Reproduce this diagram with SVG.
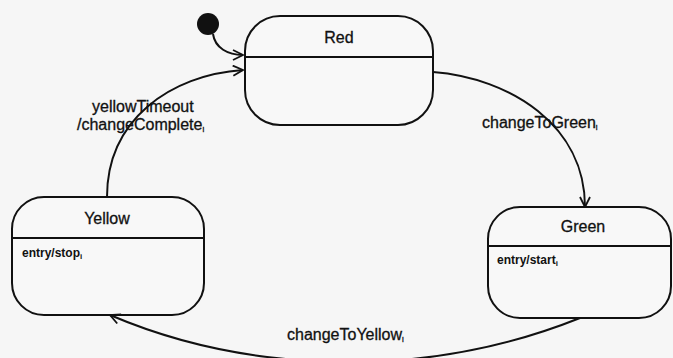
<svg xmlns="http://www.w3.org/2000/svg" width="673" height="358" viewBox="0 0 673 358">
<style>
.box{fill:#f8f8f8;stroke:#111;stroke-width:2}
.div{stroke:#111;stroke-width:2}
.t{font-family:"Liberation Sans",Arial,sans-serif;fill:#111}
.title{font-size:16px;text-anchor:middle;stroke:#111;stroke-width:0.3}
.lab{font-size:16px;stroke:#111;stroke-width:0.3}
.ent{font-size:12px;font-weight:bold}
.sub{font-size:8px}
.c{fill:none;stroke:#111;stroke-width:2}
</style>
<defs>
<marker id="arr" viewBox="0 0 12 12" refX="11" refY="6" markerWidth="12" markerHeight="12" markerUnits="userSpaceOnUse" orient="auto">
<path d="M1 1 L11 6 L1 11" fill="none" stroke="#111" stroke-width="1.8"/>
</marker>
</defs>
<rect width="673" height="358" fill="#f6f6f6"/>
<g id="initial">
<circle cx="208" cy="24" r="11" fill="#111"/>
</g>
<g id="red">
<rect class="box" x="245" y="16" width="188" height="109" rx="35"/>
<line class="div" x1="245" y1="57" x2="433" y2="57"/>
<text class="t title" x="339" y="43">Red</text>
</g>
<g id="yellow">
<rect class="box" x="12" y="197" width="192" height="118" rx="32"/>
<line class="div" x1="12" y1="238" x2="204" y2="238"/>
<text class="t title" x="107" y="224">Yellow</text>
<text class="t ent" x="22" y="257">entry/stop<tspan class="sub" dy="2">i</tspan></text>
</g>
<g id="green">
<rect class="box" x="488" y="207" width="183" height="111" rx="32"/>
<line class="div" x1="488" y1="246" x2="671" y2="246"/>
<text class="t title" x="583" y="232">Green</text>
<text class="t ent" x="497" y="264">entry/start<tspan class="sub" dy="2">i</tspan></text>
</g>
<g id="connectors">
<path class="c" d="M213 34 C215 48 228 55 243 55" marker-end="url(#arr)"/>
<path class="c" d="M433 72 C510 78 585 125 585 207" marker-end="url(#arr)"/>
<path class="c" d="M107 197 C107 120 170 75 243 70" marker-end="url(#arr)"/>
<path class="c" d="M580 318 Q470 362 350 362 Q220 362 110 315" marker-end="url(#arr)"/>
<text class="t lab" x="482" y="128">changeToGreen<tspan class="sub" dy="2">i</tspan></text>
<text class="t lab" x="92" y="112">yellowTimeout</text>
<text class="t lab" x="77" y="130">/changeComplete<tspan class="sub" dy="2">i</tspan></text>
<text class="t lab" x="287" y="340">changeToYellow<tspan class="sub" dy="2">i</tspan></text>
</g>
</svg>
